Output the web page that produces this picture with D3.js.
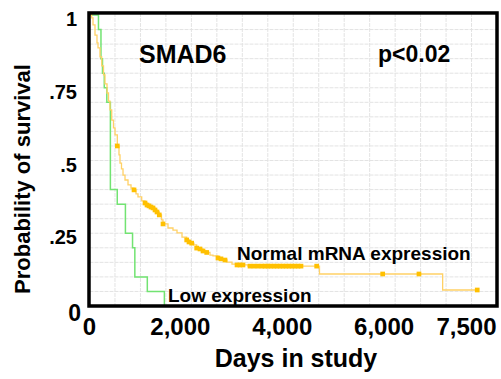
<!DOCTYPE html>
<html>
<head>
<meta charset="utf-8">
<script src="https://cdn.jsdelivr.net/npm/d3@7"></script>
<style>
  body { margin: 0; background: #fff; }
  text { font-family: 'Liberation Sans', Arial, sans-serif; font-weight: bold; }
</style>
</head>
<body>
<svg id="canvas"></svg>
<script>
// Low expression group (Kaplan-Meier steps)
const lowTime = [0, 176, 225, 255, 290, 340, 410, 545, 705, 845, 890, 1135, 1470];
const lowSurv = [1, 0.95, 0.85, 0.80, 0.75, 0.70, 0.40, 0.35, 0.25, 0.20, 0.10, 0.05, 0];

// Normal mRNA expression group
const normTime = [0, 43, 69, 108, 147, 167, 206, 240, 275, 304, 344, 373, 402, 436, 471, 501, 546, 579, 599, 628,
  658, 697, 756, 815, 874, 913, 952, 1025, 1090, 1129, 1168, 1207, 1247, 1286, 1325, 1370, 1413, 1443, 1541, 1639,
  1718, 1816, 1908, 1953, 2006, 2051, 2104, 2169, 2228, 2301, 2365, 2424, 2522, 2581, 2660, 2699, 2797, 2896, 3111,
  4515, 6933, 7612];
const normSurv = [1, 0.990, 0.966, 0.931, 0.904, 0.887, 0.856, 0.825, 0.794, 0.763, 0.732, 0.704, 0.674, 0.639, 0.612,
  0.588, 0.550, 0.519, 0.491, 0.471, 0.450, 0.433, 0.416, 0.405, 0.399, 0.385, 0.375, 0.361, 0.354, 0.347, 0.344,
  0.340, 0.337, 0.330, 0.323, 0.313, 0.296, 0.282, 0.268, 0.261, 0.251, 0.237, 0.227, 0.220, 0.216, 0.210, 0.199,
  0.196, 0.189, 0.184, 0.175, 0.172, 0.165, 0.162, 0.158, 0.151, 0.144, 0.141, 0.137, 0.110, 0.055, 0.055];

// censored observations (days) on the normal curve
const normCensor = [546, 874, 1090, 1129, 1168, 1207, 1247, 1286, 1325, 1370, 1443, 1908, 1953, 2006, 2104, 2169,
  2228, 2301, 2522, 2581, 2660, 2896, 2955, 3013, 3151, 3229, 3308, 3386, 3445, 3504, 3563, 3622, 3681, 3740, 3798,
  3857, 3916, 3975, 4034, 4093, 4152, 4460, 5756, 6468, 7612];

const xTicks = [0, 2000, 4000, 6000, 7500];
const xTickLabels = ['0', '2,000', '4,000', '6,000', '7,500'];
const yTicks = [0, 0.25, 0.5, 0.75, 1];
const yTickLabels = ['0', '.25', '.5', '.75', '1'];

const width = 501;
const height = 379;

const x = d3.scaleLinear().domain([0, 8000]).range([89.5, 497]);
const y = d3.scaleLinear().domain([0, 1]).range([306, 15]);

const canvas = d3.select('#canvas')
                 .attr('width', width)
                 .attr('height', height);

// grid
canvas.append('g')
      .selectAll('line')
      .data(d3.range(500, 8000, 500))
      .enter()
      .append('line')
      .attr('x1', d => x(d)).attr('x2', d => x(d))
      .attr('y1', y(1.007)).attr('y2', y(0))
      .attr('stroke', '#e3e3e3')
      .attr('stroke-dasharray', '4,1');

canvas.append('g')
      .selectAll('line')
      .data(d3.range(1, 20).map(i => i * 0.05))
      .enter()
      .append('line')
      .attr('x1', x(0)).attr('x2', x(8000))
      .attr('y1', d => y(d)).attr('y2', d => y(d))
      .attr('stroke', '#e3e3e3')
      .attr('stroke-dasharray', '4,1');

const step = d3.line()
               .x(d => x(d[0]))
               .y(d => y(d[1]))
               .curve(d3.curveStepAfter);

canvas.append('path')
      .attr('d', step(lowTime.map((t, i) => [t, lowSurv[i]])))
      .attr('fill', 'none')
      .attr('stroke', '#72e372')
      .attr('stroke-width', 1.5);

canvas.append('path')
      .attr('d', step(normTime.map((t, i) => [t, normSurv[i]])))
      .attr('fill', 'none')
      .attr('stroke', '#ffd166')
      .attr('stroke-width', 1.3);

const survAt = t => normSurv[d3.bisectRight(normTime, t) - 1];

canvas.append('g')
      .selectAll('path')
      .data(normCensor)
      .enter()
      .append('path')
      .attr('d', d3.symbol().type(d3.symbolSquare).size(22))
      .attr('transform', d => `translate(${x(d)}, ${y(survAt(d))})`)
      .attr('fill', '#ffc000');

// frame
canvas.append('rect')
      .attr('x', x(0) - 0.5)
      .attr('y', y(1.007))
      .attr('width', x(8000) - x(0) + 0.5)
      .attr('height', y(0) - y(1.007))
      .attr('fill', 'none')
      .attr('stroke', '#000')
      .attr('stroke-width', 3.5);

// tick labels
const nudge = d => d === 0 ? 0 : (d === 7500 ? -5 : -11);

canvas.append('g')
      .selectAll('text')
      .data(xTicks)
      .enter()
      .append('text')
      .attr('x', d => x(d) + nudge(d))
      .attr('y', 335)
      .attr('text-anchor', 'middle')
      .attr('font-size', 24)
      .text((d, i) => xTickLabels[i]);

canvas.append('g')
      .selectAll('text')
      .data(yTicks)
      .enter()
      .append('text')
      .attr('x', d => d === 0 ? 81 : 77)
      .attr('y', d => y(d) + (d === 0 ? 15 : 11))
      .attr('text-anchor', 'end')
      .attr('font-size', d => d === 0 ? 23 : 20)
      .text((d, i) => yTickLabels[i]);

// axis titles
canvas.append('text')
      .attr('x', 296)
      .attr('y', 367)
      .attr('text-anchor', 'middle')
      .attr('font-size', 25)
      .text('Days in study');

canvas.append('text')
      .attr('transform', 'translate(29.5, 179) rotate(-90)')
      .attr('text-anchor', 'middle')
      .attr('font-size', 22)
      .text('Probability of survival');

// annotations
canvas.append('text')
      .attr('x', 139).attr('y', 63)
      .attr('font-size', 25)
      .text('SMAD6');

canvas.append('text')
      .attr('x', 378).attr('y', 62)
      .attr('font-size', 23)
      .text('p<0.02');

canvas.append('text')
      .attr('x', 237).attr('y', 260)
      .attr('font-size', 19)
      .text('Normal mRNA expression');

canvas.append('text')
      .attr('x', 168).attr('y', 302)
      .attr('font-size', 19)
      .text('Low expression');
</script>
</body>
</html>
